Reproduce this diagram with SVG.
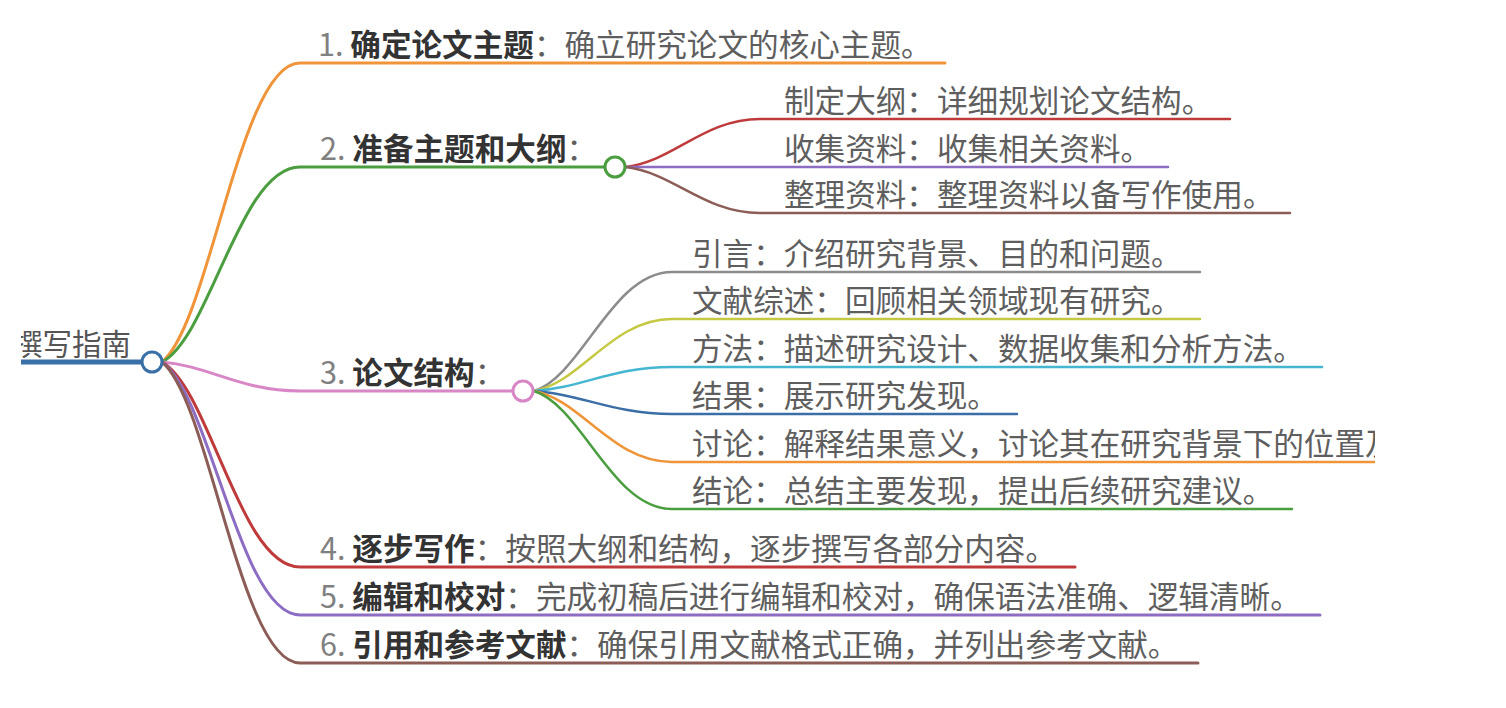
<svg xmlns="http://www.w3.org/2000/svg" width="1506" height="708" viewBox="0 0 1506 708">
<defs>
<clipPath id="view"><rect x="21" y="0" width="1354" height="708"/></clipPath>
<style>
text{font-family:"Noto Sans CJK SC","Noto Sans",sans-serif;font-size:30.6px;fill:#5e5e5e;}
.num{fill:#808080;}
.b{font-weight:bold;fill:#333;}
.root{font-size:29.5px;fill:#555;}
.c{fill:none;stroke-width:3;stroke-linecap:round;}
.s{fill:none;stroke-width:2.5;stroke-linecap:round;}
.node{fill:#fff;stroke-width:3;}
</style>
</defs>
<rect width="1506" height="708" fill="#fff"/>
<g clip-path="url(#view)">
<g id="connectors">
<path class="c" stroke="#f0943a" d="M162,362 C210,323 240,63 300,63 L945,63"/>
<path class="c" stroke="#4a9e3f" d="M162,362 C210,337 240,167 300,167 L604,167"/>
<path class="c" stroke="#d886c6" d="M162,362 C210,366 240,391 300,391 L512,391"/>
<path class="c" stroke="#bf3b3b" d="M162,362 C210,389 240,567 300,567 L1075,567"/>
<path class="c" stroke="#8d6cc3" d="M162,362 C210,395 240,615 300,615 L1320,615"/>
<path class="c" stroke="#8b5d56" d="M162,362 C210,401 240,663 300,663 L1198,663"/>
<path class="s" stroke="#bf3b3b" d="M626,167 C674,161 704,119 760,119 L1230,119"/>
<path class="s" stroke="#8d6cc3" d="M626,167 L1168,167"/>
<path class="s" stroke="#8b5d56" d="M626,167 C674,173 704,213 760,213 L1290,213"/>
<path class="s" stroke="#8c8c8c" d="M534,391 C582,376 612,272 672,272 L1200,272"/>
<path class="s" stroke="#c5c842" d="M534,391 C582,382 612,319 672,319 L1200,319"/>
<path class="s" stroke="#45b6d2" d="M534,391 C582,388 612,367 672,367 L1322,367"/>
<path class="s" stroke="#3b6ea6" d="M534,391 C582,394 612,414 672,414 L1017,414"/>
<path class="s" stroke="#f0943a" d="M534,391 C582,400 612,462 672,462 L1390,462"/>
<path class="s" stroke="#4a9e3f" d="M534,391 C582,406 612,509 672,509 L1292,509"/>
</g>
<g id="root">
<line x1="20" y1="362" x2="142" y2="362" stroke="#3a70a8" stroke-width="5"/>
<text class="root" x="13" y="355">撰写指南</text>
<circle class="node" cx="152" cy="362" r="10" stroke="#3a70a8"/>
</g>
<g id="n1"><text x="318" y="56"><tspan class="num">1. </tspan><tspan class="b">确定论文主题</tspan>：确立研究论文的核心主题。</text></g>
<g id="n2"><text x="320" y="160"><tspan class="num">2. </tspan><tspan class="b">准备主题和大纲</tspan>：</text>
<circle class="node" cx="615" cy="167" r="10" stroke="#4a9e3f"/></g>
<g id="n2a"><text x="784" y="112">制定大纲：详细规划论文结构。</text></g>
<g id="n2b"><text x="784" y="160">收集资料：收集相关资料。</text></g>
<g id="n2c"><text x="784" y="206">整理资料：整理资料以备写作使用。</text></g>
<g id="n3"><text x="320" y="384"><tspan class="num">3. </tspan><tspan class="b">论文结构</tspan>：</text>
<circle class="node" cx="523" cy="391" r="10" stroke="#d886c6"/></g>
<g id="n3a"><text x="692" y="265">引言：介绍研究背景、目的和问题。</text></g>
<g id="n3b"><text x="692" y="312">文献综述：回顾相关领域现有研究。</text></g>
<g id="n3c"><text x="692" y="360">方法：描述研究设计、数据收集和分析方法。</text></g>
<g id="n3d"><text x="692" y="407">结果：展示研究发现。</text></g>
<g id="n3e"><text x="692" y="455">讨论：解释结果意义，讨论其在研究背景下的位置及</text></g>
<g id="n3f"><text x="692" y="502">结论：总结主要发现，提出后续研究建议。</text></g>
<g id="n4"><text x="320" y="560"><tspan class="num">4. </tspan><tspan class="b">逐步写作</tspan>：按照大纲和结构，逐步撰写各部分内容。</text></g>
<g id="n5"><text x="320" y="608"><tspan class="num">5. </tspan><tspan class="b">编辑和校对</tspan>：完成初稿后进行编辑和校对，确保语法准确、逻辑清晰。</text></g>
<g id="n6"><text x="320" y="656"><tspan class="num">6. </tspan><tspan class="b">引用和参考文献</tspan>：确保引用文献格式正确，并列出参考文献。</text></g>
</g>
</svg>
